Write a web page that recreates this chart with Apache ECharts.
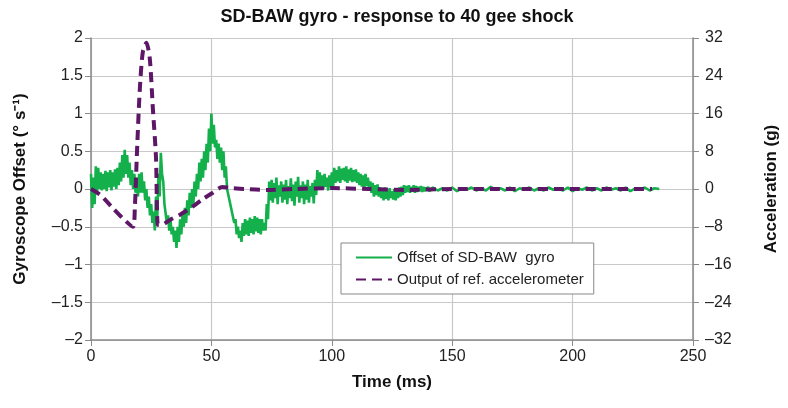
<!DOCTYPE html>
<html>
<head>
<meta charset="utf-8">
<script src="https://cdn.jsdelivr.net/npm/echarts@6/dist/echarts.min.js"></script>
<style>
  html, body { margin: 0; padding: 0; background: #fff; }
  #chartsGyro { width: 788px; height: 408px; }
</style>
</head>
<body>
<div id="chartsGyro"></div>
<script>
	var gyroUpper = [
	  0.20, 0.15, 0.30, 0.28, 0.22, 0.20, 0.24, 0.22, 0.25, 0.22,
	  0.26, 0.28, 0.35, 0.45, 0.52, 0.45, 0.35, 0.25, 0.20, 0.15,
	  0.20, 0.22, 0.10, 0.00, -0.10, -0.20, -0.30, -0.10, 0.20, 0.48,
	  0.10, -0.20, -0.35, -0.40, -0.50, -0.55, -0.50, -0.40, -0.35, -0.25,
	  -0.15, -0.05, 0.00, 0.10, 0.20, 0.35, 0.40, 0.50, 0.60, 0.80,
	  1.00, 0.85, 0.65, 0.60, 0.55, 0.50, 0.30, 0.00, -0.15, -0.30,
	  -0.40, -0.50, -0.55, -0.45, -0.40, -0.42, -0.38, -0.40, -0.36, -0.38,
	  -0.40, -0.40, -0.45, -0.20, 0.10, 0.12, 0.08, 0.15, 0.05, 0.10,
	  0.06, 0.12, 0.04, 0.14, 0.06, 0.10, 0.16, 0.05, 0.10, 0.06,
	  0.12, 0.04, 0.08, 0.12, 0.25, 0.22, 0.18, 0.20, 0.15, 0.18,
	  0.22, 0.28, 0.25, 0.30, 0.27, 0.28, 0.30, 0.26, 0.28, 0.25,
	  0.26, 0.22, 0.20, 0.18, 0.20, 0.15, 0.10, 0.08, 0.05, 0.06,
	  0.02, 0.00, 0.02, -0.02, 0.01, -0.03, 0.00, -0.02, 0.02, 0.03,
	  0.05, 0.04, 0.05, 0.03, 0.05, 0.04, 0.03, 0.04, 0.03, 0.02,
	  0.03
	];
	var gyroLower = [
	  -0.25, -0.20, -0.05, 0.00, -0.02, 0.00, -0.03, 0.02, -0.02, 0.03,
	  0.00, 0.05, 0.10, 0.15, 0.20, 0.15, 0.05, 0.00, -0.05, -0.10,
	  -0.05, -0.05, -0.15, -0.25, -0.35, -0.45, -0.55, -0.40, -0.10, 0.20,
	  -0.20, -0.45, -0.55, -0.60, -0.70, -0.78, -0.70, -0.60, -0.50, -0.45,
	  -0.35, -0.25, -0.20, -0.10, 0.00, 0.10, 0.15, 0.25, 0.35, 0.50,
	  0.60, 0.55, 0.40, 0.35, 0.25, 0.15, 0.00, -0.15, -0.30, -0.45,
	  -0.60, -0.65, -0.70, -0.62, -0.60, -0.62, -0.58, -0.60, -0.56, -0.58,
	  -0.60, -0.55, -0.55, -0.40, -0.15, -0.18, -0.12, -0.20, -0.10, -0.18,
	  -0.14, -0.20, -0.12, -0.16, -0.22, -0.10, -0.18, -0.12, -0.20, -0.14,
	  -0.18, -0.10, -0.19, -0.08, 0.00, 0.02, 0.00, 0.03, -0.02, 0.02,
	  0.00, 0.08, 0.10, 0.08, 0.12, 0.10, 0.08, 0.11, 0.09, 0.10,
	  0.08, 0.05, 0.03, 0.02, 0.04, 0.00, -0.05, -0.10, -0.08, -0.10,
	  -0.12, -0.15, -0.13, -0.15, -0.12, -0.14, -0.15, -0.12, -0.10, -0.08,
	  -0.05, -0.04, -0.05, -0.03, -0.05, -0.04, -0.03, -0.04, -0.03, -0.02,
	  -0.03
	];
	// quiet tail after 140 ms, every 2 ms from 142 to 236
	var gyroTail = [
	  0.02, -0.02, 0.01, -0.02, 0.02, -0.03, 0.01, -0.01, 0.02, -0.02,
	  0.01, -0.02, 0.03, -0.01, 0.01, -0.02, 0.02, -0.03, 0.01, -0.01,
	  0.02, -0.02, 0.01, -0.02, 0.02, -0.01, 0.01, -0.02, 0.02, -0.03,
	  0.01, -0.01, 0.02, -0.02, 0.01, -0.02, 0.02, -0.01, 0.01, -0.02,
	  0.02, -0.03, 0.01, -0.01, 0.02, -0.02, 0.01, 0.00
	];

	// reference accelerometer (g)
	var accelTime = [0, 4, 9, 13, 17.4, 18.2, 19, 20.2, 21.5, 23, 24.4, 25.7, 27, 27.8, 29.3, 32.6, 36.8, 42, 46, 50.4, 54.5, 58.7, 64, 73, 85, 100, 115, 130, 150, 175, 200, 233];
	var accelG    = [0, -1.3, -4, -6.1, -8, -4, 6.6, 20.5, 29, 31, 27.7, 17, 6.6, -7.6, -7.6, -6.6, -5.5, -3.8, -2.3, -0.85, 0.4, 0.2, 0, -0.2, 0, 0.2, 0, -0.2, 0, 0, 0, 0];

	var seriesNames = ["Offset of SD-BAW  gyro", "Output of ref. accelerometer"];
	var timeTicks = { min: 0, max: 250, interval: 50 };
	var offsetTicks = { min: -2, max: 2, interval: 0.5 };
	var accelTicks = { min: -32, max: 32, interval: 8 };

	var gyroData = new Array();
	for (var i = 0; i < gyroUpper.length; i++) {
	  gyroData.push([i, gyroUpper[i]]);
	  gyroData.push([i + 0.5, gyroLower[i]]);
	}
	for (var j = 0; j < gyroTail.length; j++) {
	  gyroData.push([142 + j * 2, gyroTail[j]]);
	}
	var accelData = accelTime.map(function (t, k) { return [t, accelG[k]]; });

	function minusFmt(v) {
	  return String(v).replace("-", "\u2013");
	}

	var fontName = "Liberation Sans";
	var axisLineGray = "#8a8a8a";

	var chartsOption = {
	  animation: false,
	  textStyle: { fontFamily: fontName },
	  title: {
	    text: "SD-BAW gyro - response to 40 gee shock",
	    left: 392,
	    textAlign: "center",
	    top: 3,
	    textStyle: { fontSize: 18, fontWeight: "bold", color: "#111", fontFamily: fontName }
	  },
	  legend: {
	    orient: "vertical",
	    left: 341,
	    top: 243,
	    padding: [7, 10, 7, 14],
	    itemGap: 7,
	    itemWidth: 36,
	    itemHeight: 12,
	    borderColor: "#888",
	    borderWidth: 1,
	    backgroundColor: "#fff",
	    itemStyle: { opacity: 0 },
	    textStyle: { fontSize: 15, color: "#222", fontFamily: fontName, width: 230 },
	    data: seriesNames
	  },
	  grid: { left: 91, right: 92, top: 38, bottom: 68 },
	  xAxis: {
	    type: "value",
	    min: timeTicks.min, max: timeTicks.max, interval: timeTicks.interval,
	    name: "Time (ms)",
	    nameLocation: "middle",
	    nameGap: 34,
	    nameTextStyle: { fontSize: 17, fontWeight: "bold", color: "#111" },
	    axisLine: { onZero: false, lineStyle: { color: axisLineGray, width: 1.5 } },
	    axisTick: { show: true, length: 6, lineStyle: { color: axisLineGray } },
	    axisLabel: { fontSize: 16, color: "#222", margin: 9 },
	    splitLine: { show: true, lineStyle: { color: "#c9c9c9", width: 1.2 } }
	  },
	  yAxis: [
	    {
	      type: "value",
	      position: "left",
	      min: offsetTicks.min, max: offsetTicks.max, interval: offsetTicks.interval,
	      name: "Gyroscope Offset (\u00b0 s\u207b\u00b9)",
	      nameLocation: "middle",
	      nameGap: 62,
	      nameRotate: 90,
	      nameTextStyle: { fontSize: 17, fontWeight: "bold", color: "#111" },
	      axisLine: { show: true, onZero: false, lineStyle: { color: axisLineGray, width: 1.5 } },
	      axisTick: { show: true, length: 6, lineStyle: { color: axisLineGray } },
	      axisLabel: { fontSize: 16, color: "#222", margin: 8, formatter: minusFmt },
	      splitLine: { show: true, lineStyle: { color: "#c9c9c9", width: 1.2 } }
	    },
	    {
	      type: "value",
	      position: "right",
	      min: accelTicks.min, max: accelTicks.max, interval: accelTicks.interval,
	      name: "Acceleration (g)",
	      nameLocation: "middle",
	      nameGap: 70,
	      nameRotate: 90,
	      nameTextStyle: { fontSize: 17, fontWeight: "bold", color: "#111" },
	      axisLine: { show: true, onZero: false, lineStyle: { color: axisLineGray, width: 1.5 } },
	      axisTick: { show: true, length: 6, lineStyle: { color: axisLineGray } },
	      axisLabel: { fontSize: 16, color: "#222", margin: 12, formatter: minusFmt },
	      splitLine: { show: false }
	    }
	  ],
	  series: [
	    {
	      name: seriesNames[0],
	      type: "line",
	      yAxisIndex: 0,
	      symbol: "none",
	      lineStyle: { color: "#13b04c", width: 2.6 },
	      itemStyle: { color: "#13b04c" },
	      data: gyroData,
	      z: 2
	    },
	    {
	      name: seriesNames[1],
	      type: "line",
	      yAxisIndex: 1,
	      symbol: "none",
	      smooth: 0.25,
	      lineStyle: { color: "#5e1766", width: 4, type: [10, 6] },
	      itemStyle: { color: "#5e1766" },
	      data: accelData,
	      z: 3
	    }
	  ]
	};

	var myChart = echarts.init(document.getElementById("chartsGyro"));
	chartsOption && myChart.setOption(chartsOption, true);
</script>
</body>
</html>
